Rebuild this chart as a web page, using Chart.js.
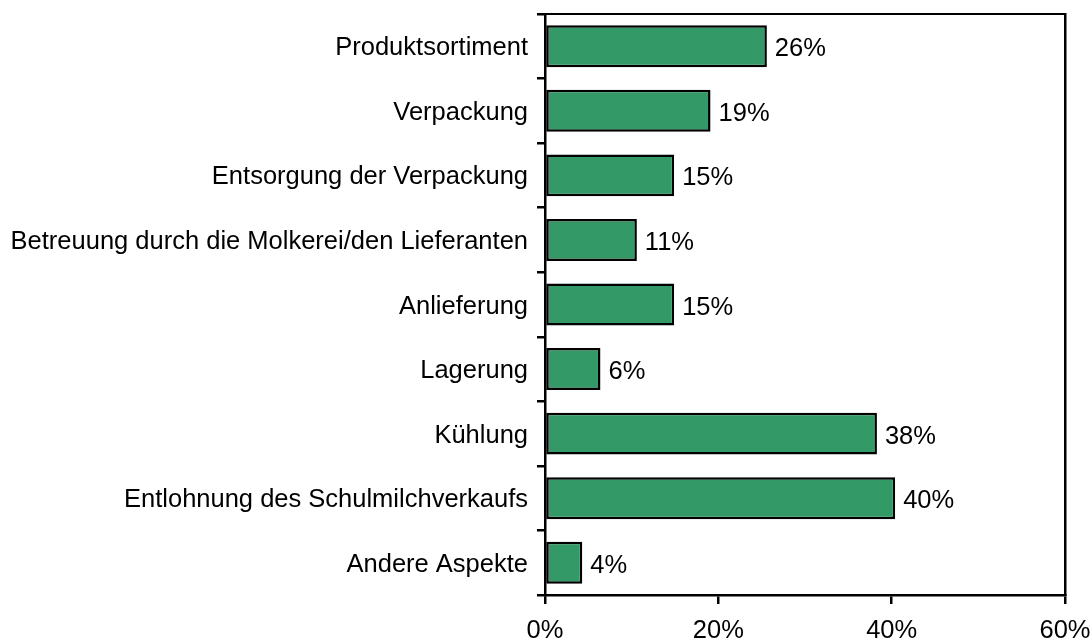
<!DOCTYPE html>
<html>
<head>
<meta charset="utf-8">
<script src="https://cdn.jsdelivr.net/npm/chart.js@4.4.1/dist/chart.umd.min.js"></script>
<style>
  body { margin: 0; background: #fff; }
  #wrap { width: 1092px; height: 641px; }
</style>
</head>
<body>
<div id="wrap"><canvas id="grafico" width="1092" height="641"></canvas></div>
<script>
// categorias y valores (en %)
var categorias = [
  "Produktsortiment",
  "Verpackung",
  "Entsorgung der Verpackung",
  "Betreuung durch die Molkerei/den Lieferanten",
  "Anlieferung",
  "Lagerung",
  "Kühlung",
  "Entlohnung des Schulmilchverkaufs",
  "Andere Aspekte"
];
var valores = [25.6, 19.1, 14.9, 10.6, 14.9, 6.4, 38.3, 40.4, 4.3];
var ticksX = [0, 20, 40, 60];

var fuente = "'Liberation Sans', Arial, sans-serif";
var tamFuente = 25.5;

// etiquetas de valor a la derecha de cada barra
var etiquetasBarras = {
  id: "etiquetasBarras",
  afterDatasetsDraw: function(chart) {
    var ctx = chart.ctx;
    var meta = chart.getDatasetMeta(0);
    ctx.save();
    ctx.fillStyle = "#000";
    ctx.font = tamFuente + "px " + fuente;
    ctx.textAlign = "left";
    ctx.textBaseline = "middle";
    meta.data.forEach(function(bar, i) {
      ctx.fillText(Math.round(valores[i]) + "%", bar.x + 8, bar.y + 3);
    });
    ctx.restore();
  }
};

// sin relleno automatico de las etiquetas, el area queda fija
function sinPadding(s) {
  s.paddingTop = 0; s.paddingBottom = 0; s.paddingLeft = 0; s.paddingRight = 0;
}

new Chart(document.getElementById("grafico"), {
  type: "bar",
  data: {
    labels: categorias,
    datasets: [{
      data: valores,
      backgroundColor: "#339966",
      borderColor: "#000",
      borderWidth: 2.5,
      borderSkipped: false,
      categoryPercentage: 1,
      barPercentage: 0.65
    }]
  },
  options: {
    indexAxis: "y",
    responsive: false,
    animation: false,
    layout: { padding: 0 },
    plugins: { legend: { display: false }, tooltip: { enabled: false } },
    scales: {
      x: {
        min: 0, max: 60,
        afterBuildTicks: function(s) { s.ticks = ticksX.map(function(v) { return { value: v }; }); },
        afterFit: function(s) { s.height = 46; sinPadding(s); },
        border: { display: true, color: "#000", width: 2.5 },
        grid: { drawOnChartArea: false, color: "#000", lineWidth: 2.5, tickLength: 9 },
        ticks: {
          color: "#000", padding: 12, maxRotation: 0,
          font: { family: fuente, size: tamFuente },
          callback: function(v) { return v + "%"; }
        }
      },
      xTop: {
        position: "top", type: "linear", min: 0, max: 60,
        afterFit: function(s) { s.height = 14; sinPadding(s); },
        border: { display: true, color: "#000", width: 2 },
        grid: { display: false },
        ticks: { display: false }
      },
      y: {
        afterFit: function(s) { s.width = 545; sinPadding(s); },
        border: { display: true, color: "#000", width: 2.5 },
        grid: { drawOnChartArea: false, color: "#000", lineWidth: 2.5, tickLength: 8, offset: true },
        ticks: {
          color: "#000", padding: 9, labelOffset: 2,
          font: { family: fuente, size: tamFuente }
        }
      },
      yRight: {
        position: "right", type: "linear",
        afterFit: function(s) { s.width = 27; sinPadding(s); },
        border: { display: true, color: "#000", width: 2.5 },
        grid: { display: false },
        ticks: { display: false }
      }
    }
  },
  plugins: [etiquetasBarras]
});
</script>
</body>
</html>
